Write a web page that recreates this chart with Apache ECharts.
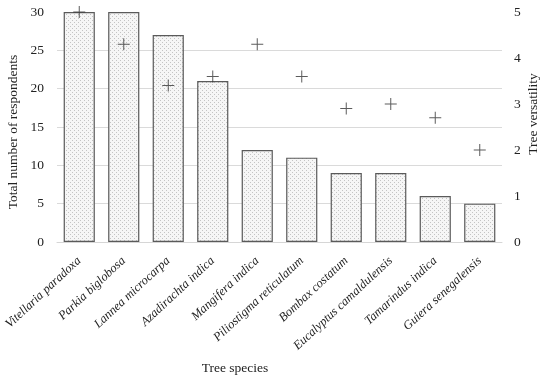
<!DOCTYPE html>
<html>
<head>
<meta charset="utf-8">
<script src="https://cdn.jsdelivr.net/npm/echarts@6/dist/echarts.min.js"></script>
<style>html,body{margin:0;padding:0;background:#fff;}#c{width:550px;height:380px;}</style>
</head>
<body>
<div id="c"></div>
<script>
var categories = ['Vitellaria paradoxa','Parkia biglobosa','Lannea microcarpa','Azadirachta indica','Mangifera indica','Piliostigma reticulatum','Bombax costatum','Eucalyptus camaldulensis','Tamarindus indica','Guiera senegalensis'];
var respondents = [30, 30, 27, 21, 12, 11, 9, 9, 6, 5];
var versatility = [5.0, 4.3, 3.4, 3.6, 4.3, 3.6, 2.9, 3.0, 2.7, 2.0];
var leftTicks = [0, 5, 10, 15, 20, 25, 30];
var rightTicks = [0, 1, 2, 3, 4, 5];

var FONT = '"Liberation Serif", "DejaVu Serif", serif';
var pc = document.createElement('canvas');
pc.width = 4; pc.height = 4;
var g = pc.getContext('2d');
g.fillStyle = '#f6f6f6'; g.fillRect(0,0,4,4);
g.fillStyle = '#c4c4c4'; g.fillRect(0,0,1,1); g.fillRect(2,2,1,1);

var chart = echarts.init(document.getElementById('c'), null, {renderer:'canvas'});
var gridColors = leftTicks.map(function(t, i){ return i === leftTicks.length - 1 ? 'rgba(0,0,0,0)' : '#dadada'; });
chart.setOption({
  animation: false,
  grid: {left: 57, right: 48, top: 12, bottom: 138},
  xAxis: {
    type: 'category', data: categories,
    axisLine: {show: true, lineStyle: {color: '#d6d6d6', width: 1}},
    axisTick: {show: false},
    axisLabel: {rotate: 43, interval: 0, margin: 17, fontFamily: FONT, fontStyle: 'italic', fontSize: 12.5, color: '#222'}
  },
  yAxis: [{
    type: 'value', min: leftTicks[0], max: leftTicks[leftTicks.length-1], interval: 5,
    axisLine: {show: false}, axisTick: {show: false},
    axisLabel: {fontFamily: FONT, fontSize: 13.5, color: '#222', margin: 13},
    splitLine: {show: true, lineStyle: {color: gridColors, width: 1}}
  }, {
    type: 'value', min: rightTicks[0], max: rightTicks[rightTicks.length-1], interval: 1,
    axisLine: {show: false}, axisTick: {show: false},
    axisLabel: {fontFamily: FONT, fontSize: 13.5, color: '#222', margin: 12},
    splitLine: {show: false}
  }],
  graphic: [
    {type: 'text', rotation: Math.PI/2, x: 13, y: 132, style: {text: 'Total number of respondents', font: '13.5px ' + FONT, fill: '#222', align: 'center', verticalAlign: 'middle'}},
    {type: 'text', rotation: Math.PI/2, x: 533, y: 114, style: {text: 'Tree versatility', font: '13.5px ' + FONT, fill: '#222', align: 'center', verticalAlign: 'middle'}},
    {type: 'text', x: 235, y: 368, style: {text: 'Tree species', font: '13.5px ' + FONT, fill: '#222', align: 'center', verticalAlign: 'middle'}}
  ],
  series: [{
    type: 'bar', data: respondents, barWidth: '70%', yAxisIndex: 0,
    itemStyle: {color: {image: pc, repetition: 'repeat'}, borderColor: '#5a5a5a', borderWidth: 1.2}
  }, {
    type: 'scatter', data: versatility, yAxisIndex: 1,
    symbol: 'path://M0,5.5H12V6.5H0Z M5.5,0H6.5V12H5.5Z', symbolSize: 12,
    itemStyle: {color: '#333'}
  }]
});
</script>
</body>
</html>
